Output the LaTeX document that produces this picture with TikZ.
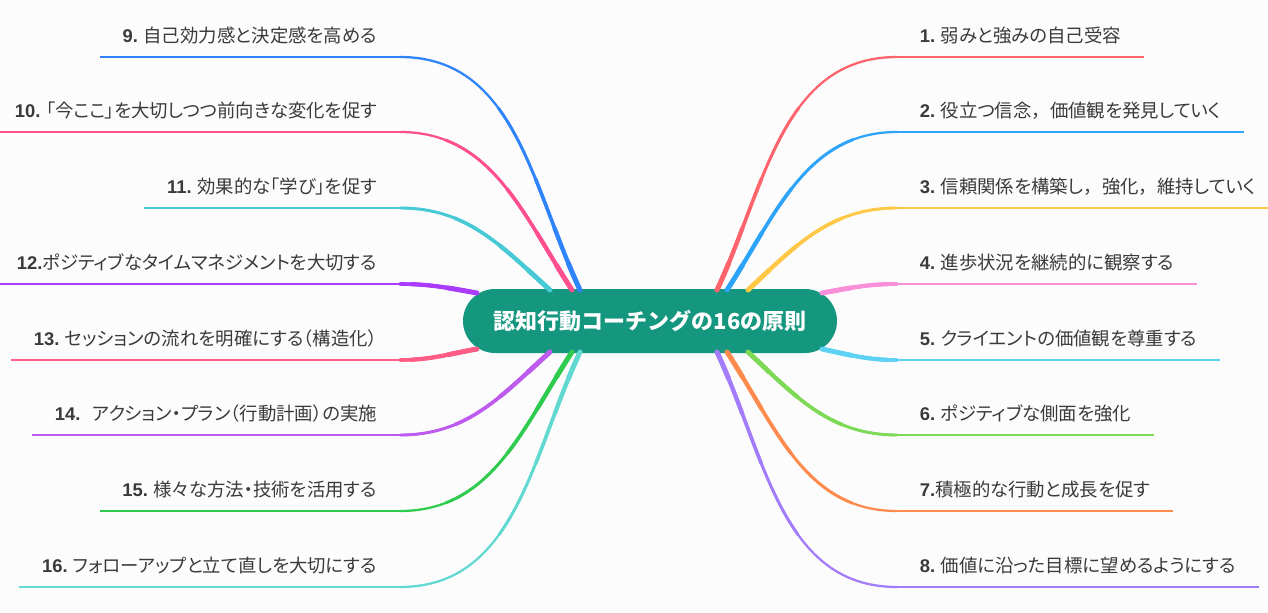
\documentclass[tikz,border=0pt]{standalone}
\usepackage{fontspec}
\setmainfont{Noto Sans CJK JP}
\newfontfamily\leaffont{Noto Sans CJK JP}[RawFeature=+palt]
\newfontfamily\fullfont{Noto Sans CJK JP}
\newfontfamily\numfont{Liberation Sans}
\newcommand\bnum[1]{{\numfont\bfseries #1}}
\newcommand\fw[1]{{\fullfont #1}}

\definecolor{bg}{HTML}{FCFCFD}
\definecolor{hubfill}{HTML}{14967F}
\definecolor{ink}{HTML}{3A3A3A}
\definecolor{c1}{HTML}{FF636C}
\definecolor{c2}{HTML}{2EA3FA}
\definecolor{c3}{HTML}{FFC947}
\definecolor{c4}{HTML}{F98ED9}
\definecolor{c5}{HTML}{5ED2F2}
\definecolor{c6}{HTML}{7ED957}
\definecolor{c7}{HTML}{FF8A4D}
\definecolor{c8}{HTML}{A27CF9}
\definecolor{c9}{HTML}{2F83FB}
\definecolor{c10}{HTML}{FF4F8E}
\definecolor{c11}{HTML}{47CAD6}
\definecolor{c12}{HTML}{A93BFD}
\definecolor{c13}{HTML}{FF5C86}
\definecolor{c14}{HTML}{BE5BEF}
\definecolor{c15}{HTML}{2FCB4F}
\definecolor{c16}{HTML}{61D9D1}

\begin{document}
\begin{tikzpicture}
        [x=0.75pt, y=0.75pt,
        hub/.style={rectangle, rounded corners=24pt, fill=hubfill, text=white,
                minimum width=280.5pt, minimum height=48pt, inner sep=0pt,
                font=\bfseries\fontsize{16.5}{20}\selectfont},
        leaf/.style={inner xsep=17pt, inner ysep=3pt, text height=10pt, text depth=8pt,
                text=ink, font=\leaffont\fontsize{13.8}{16}\selectfont},
        branch/.style={line width=1.7pt, line cap=round,
                postaction={draw, line width=2.2pt, dash pattern=on 150pt off 2000pt},
                postaction={draw, line width=2.7pt, dash pattern=on 90pt off 2000pt},
                postaction={draw, line width=3.2pt, dash pattern=on 50pt off 2000pt},
                postaction={draw, line width=3.7pt, dash pattern=on 22pt off 2000pt}},
        uline/.style={line width=1.6pt}]

        \fill[bg] (0,0) rectangle (1268,-613);
        \useasboundingbox (0,0) rectangle (1268,-613);

        \node[hub] (c) at (650,-321) {認知行動コーチングの16の原則};

        % right side
        \node[leaf, anchor=south west] (b1) at (897,-57) {\bnum{1.} 弱みと強みの自己受容};
        \node[leaf, anchor=south west] (b2) at (897,-132) {\bnum{2.} 役立つ信念\fw{，}価値観を発見していく};
        \node[leaf, anchor=south west] (b3) at (897,-208) {\bnum{3.} 信頼関係を構築し\fw{，}強化\fw{，}維持していく};
        \node[leaf, anchor=south west] (b4) at (897,-284) {\bnum{4.} 進歩状況を継続的に観察する};
        \node[leaf, anchor=south west] (b5) at (897,-360) {\bnum{5.} クライエントの価値観を尊重する};
        \node[leaf, anchor=south west] (b6) at (897,-435) {\bnum{6.} ポジティブな側面を強化};
        \node[leaf, anchor=south west] (b7) at (897,-511) {\bnum{7.}積極的な行動と成長を促す};
        \node[leaf, anchor=south west] (b8) at (897,-587) {\bnum{8.} 価値に沿った目標に望めるようにする};

        % left side
        \node[leaf, anchor=south east] (b9) at (400,-57) {\bnum{9.} 自己効力感と決定感を高める};
        \node[leaf, anchor=south east] (b10) at (400,-132) {\bnum{10.} 「今ここ」を大切しつつ前向きな変化を促す};
        \node[leaf, anchor=south east] (b11) at (400,-208) {\bnum{11.} 効果的な「学び」を促す};
        \node[leaf, anchor=south east] (b12) at (400,-284) {\bnum{12.}ポジティブなタイムマネジメントを大切する};
        \node[leaf, anchor=south east] (b13) at (400,-360) {\bnum{13.} セッションの流れを明確にする（構造化）};
        \node[leaf, anchor=south east] (b14) at (400,-435) {\bnum{14.}\hspace{9pt}アクション・プラン（行動計画）の実施};
        \node[leaf, anchor=south east] (b15) at (400,-511) {\bnum{15.} 様々な方法・技術を活用する};
        \node[leaf, anchor=south east] (b16) at (400,-587) {\bnum{16.} フォローアップと立て直しを大切にする};

        % where the branches leave the hub
        \foreach \n/\x/\y in {1/717/290, 2/727/290, 3/748/290, 4/822/293, 5/822/349,
                6/748/352, 7/727/352, 8/717/352, 9/580/290, 10/572/290, 11/550/290,
                12/477/293, 13/477/349, 14/550/352, 15/572/352, 16/580/352}
            \coordinate (s\n) at (\x,-\y);

        % branches
        \foreach \n/\a in {1/65, 2/57, 3/43, 4/10, 5/-12, 6/-43, 7/-57, 8/-65}
            \draw[branch, color=c\n] (s\n) to[out=\a, in=180] (b\n.south west);
        \foreach \n/\a in {9/115, 10/123, 11/138, 12/170, 13/190, 14/222, 15/237, 16/245}
            \draw[branch, color=c\n] (s\n) to[out=\a, in=0] (b\n.south east);

        % underlines
        \foreach \n in {1,...,16}
            \draw[uline, color=c\n] (b\n.south west) -- (b\n.south east);

        \end{tikzpicture}
\end{document}
